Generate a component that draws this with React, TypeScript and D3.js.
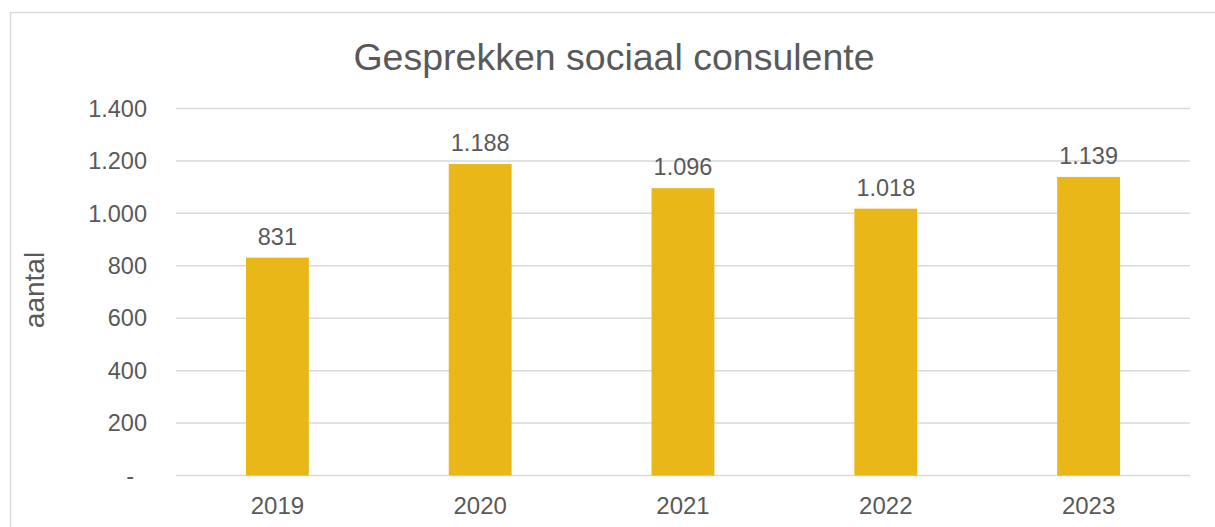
import React from "react";
import * as d3 from "d3";

const categories = ["2019", "2020", "2021", "2022", "2023"];
const values = [831, 1188, 1096, 1018, 1139];
const valueLabels = ["831", "1.188", "1.096", "1.018", "1.139"];
const tickValues = [0, 200, 400, 600, 800, 1000, 1200, 1400];
const tickLabels = ["-", "200", "400", "600", "800", "1.000", "1.200", "1.400"];
const title = "Gesprekken sociaal consulente";
const yTitle = "aantal";

const W = 1215;
const H = 527;
const plot = { left: 176, right: 1190, top: 108.5, bottom: 475.5 };
const FONT = "'Liberation Sans', Arial, sans-serif";
const TEXT = "#595959";
const GRID = "#D9D9D9";
const BAR = "#E9B717";

export default function App() {
  const x = d3.scaleBand<string>().domain(categories).range([plot.left, plot.right]).paddingInner(0.69).paddingOuter(0.345);
  const y = d3.scaleLinear().domain([0, 1400]).range([plot.bottom, plot.top]);
  return (
    <svg width={W} height={H} style={{ position: "absolute", left: 0, top: 0, background: "#fff" }}>
      <rect x={10.5} y={12.5} width={1230} height={540} fill="#fff" stroke={GRID} strokeWidth={1.5} />
      <text x={614} y={70} textAnchor="middle" fontFamily={FONT} fontSize={37.5} fill={TEXT}>{title}</text>
      {tickValues.map((t, i) => (
        <g key={t}>
          <line x1={plot.left} x2={plot.right} y1={y(t)} y2={y(t)} stroke={GRID} strokeWidth={1.5} />
          <text x={t === 0 ? 134 : 147} y={y(t)} dy="0.35em" textAnchor="end" fontFamily={FONT} fontSize={23.5} fill={TEXT}>{tickLabels[i]}</text>
        </g>
      ))}
      <text transform={`translate(44,${(plot.top + plot.bottom) / 2 - 2}) rotate(-90)`} textAnchor="middle" fontFamily={FONT} fontSize={28} fill={TEXT}>{yTitle}</text>
      {categories.map((c, i) => (
        <g key={c}>
          <rect x={x(c)} y={y(values[i])} width={x.bandwidth()} height={y(0) - y(values[i])} fill={BAR} />
          <text x={x(c)! + x.bandwidth() / 2} y={y(values[i]) - 13} textAnchor="middle" fontFamily={FONT} fontSize={23.5} fill={TEXT}>{valueLabels[i]}</text>
          <text x={x(c)! + x.bandwidth() / 2} y={513.5} textAnchor="middle" fontFamily={FONT} fontSize={24} fill={TEXT}>{c}</text>
        </g>
      ))}
    </svg>
  );
}
